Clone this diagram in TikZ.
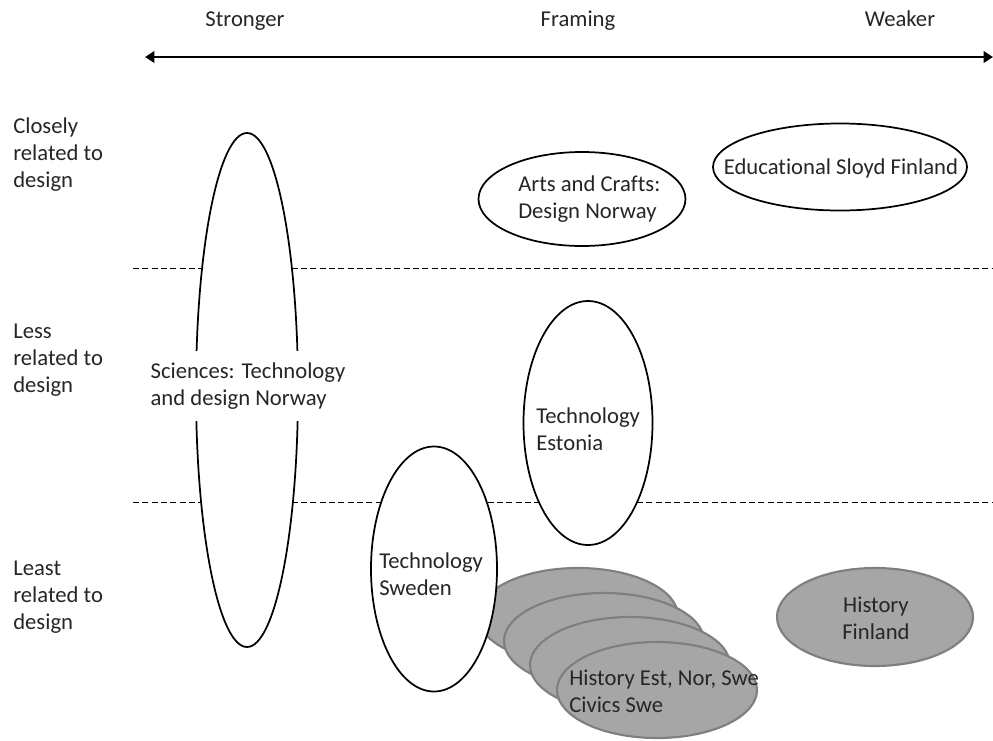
\documentclass[tikz,border=0pt]{standalone}
\usepackage{fontspec}
\setmainfont{Carlito}[Ligatures=NoCommon]
\usetikzlibrary{shapes.geometric,arrows.meta}
\definecolor{fillgrey}{HTML}{A6A6A6}
\definecolor{edgegrey}{HTML}{7F7F7F}
\begin{document}
\begin{tikzpicture}[x=0.75pt,y=-0.75pt,
  font=\fontsize{17}{20.25}\selectfont,
  oval/.style={ellipse, draw=black, line width=1.3pt, fill=white, inner sep=0pt},
  greyoval/.style={ellipse, draw=edgegrey, line width=1.6pt, fill=fillgrey, inner sep=0pt,
    minimum width=150pt, minimum height=72pt},
  txt/.style={align=left, inner sep=0pt, text=black!85},
  ltxt/.style={txt, anchor=west},
  headlabel/.style={inner sep=0pt, anchor=base, text=black!85},
  divider/.style={line width=0.75pt, dash pattern=on 4.5pt off 2.5pt},
  axis/.style={line width=2pt, {Triangle[width=8.5pt,length=7pt]}-{Triangle[width=8.5pt,length=7pt]}}]

\useasboundingbox (0,0) rectangle (993,740);

% header and framing axis
\node[headlabel] (strong) at (245,26) {Stronger};
\node[headlabel] (framing) at (578,26) {Framing};
\node[headlabel] (weak) at (900,26) {Weaker};
\coordinate (axL) at (145,57);
\coordinate (axR) at (993,57);
\draw[axis] (axL) -- (axR);

% row dividers
\coordinate (d1L) at (133,268);
\coordinate (d1R) at (993,268);
\coordinate (d2L) at (133,502);
\coordinate (d2R) at (993,502);
\draw[divider] (d1L) -- (d1R);
\draw[divider] (d2L) -- (d2R);

% row labels
\node[ltxt] (close) at (13,155) {Closely\\related to\\design};
\node[ltxt] (less) at (13,360) {Less\\related to\\design};
\node[ltxt] (least) at (13,597) {Least\\related to\\design};

% sciences: tall oval interrupted by its label
\node[oval, minimum width=76.5pt, minimum height=385.5pt] (sci) at (247,390) {};
\node[ltxt, fill=white, inner xsep=1pt, inner ysep=9pt] (scitext) at (149,386) {Sciences: Technology\\and design Norway};

% arts and crafts, sloyd
\node[oval, minimum width=155.25pt, minimum height=70.5pt] (arts) at (582,199) {};
\node[ltxt] (artstext) at (518,199) {Arts and Crafts:\\Design Norway};
\node[oval, minimum width=190.5pt, minimum height=65.25pt] (sloyd) at (840,167) {};
\node[txt] (sloydtext) at (841,168) {Educational Sloyd Finland};

% technology Estonia
\node[oval, minimum width=96.75pt, minimum height=183pt] (est) at (588,423) {};
\node[ltxt] (esttext) at (536,429) {Technology\\Estonia};

% stacked history / civics ovals
\node[greyoval] (h1) at (578,616) {};
\node[greyoval] (h2) at (604,641) {};
\node[greyoval] (h3) at (630,665) {};
\node[greyoval] (h4) at (657,690) {};
\node[ltxt] (h4text) at (569,691) {History Est, Nor, Swe\\Civics Swe};

% technology Sweden, in front of the back history oval
\node[oval, minimum width=94.5pt, minimum height=183.75pt] (swe) at (434,569) {};
\node[ltxt] (swetext) at (379,574) {Technology\\Sweden};

% history Finland
\node[greyoval, minimum width=147pt, minimum height=73.5pt] (histfin) at (875,617) {};
\node[txt, align=center] (histfintext) at (876,618) {History\\Finland};

\end{tikzpicture}
\end{document}
